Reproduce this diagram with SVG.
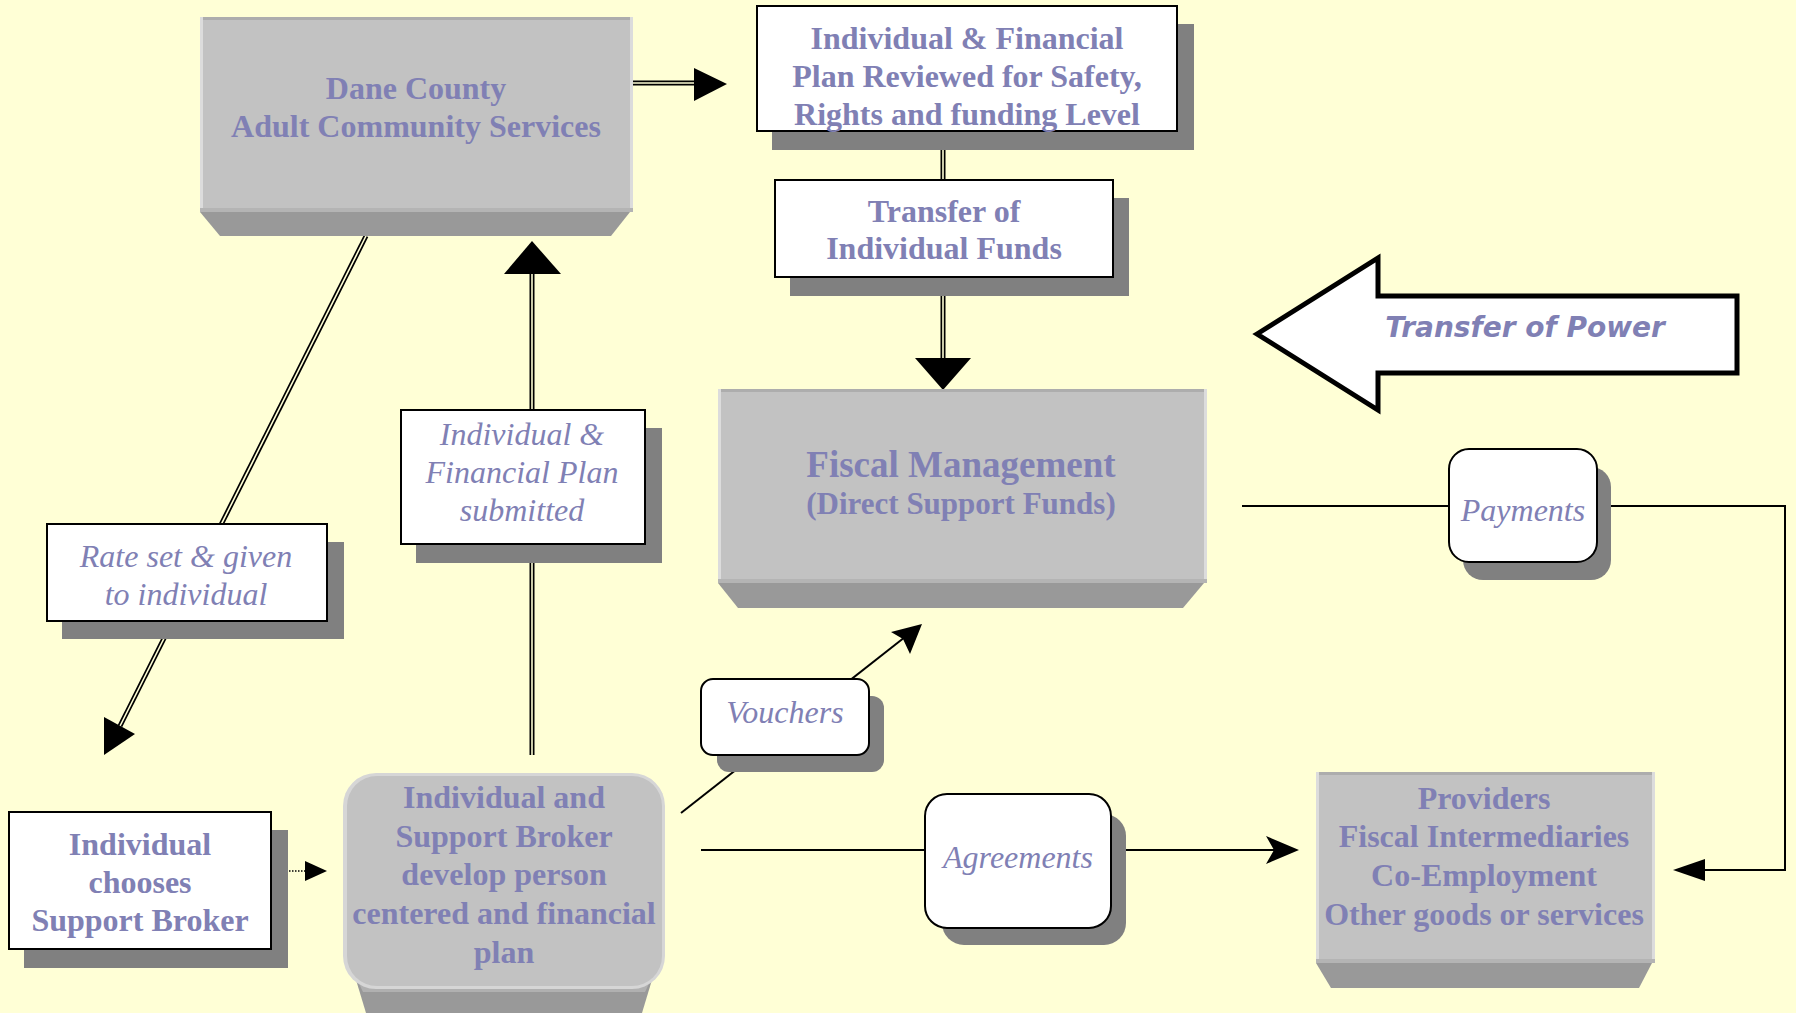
<svg xmlns="http://www.w3.org/2000/svg" width="1796" height="1013" viewBox="0 0 1796 1013">
<defs>
<style>
.shadow{fill:#808080}
.box{fill:#FFFFFF;stroke:#000000;stroke-width:2}
.face{fill:#C2C2C2}
.edgeL{fill:#DCDCDC}
.edgeT{fill:#ADADAD}
.edgeB{fill:#B4B4B4}
.bevel{fill:#999999}
.tb{font-family:"Liberation Serif","Times New Roman",serif;font-weight:bold;font-size:32px;fill:#8080B4;text-anchor:middle}
.ti{font-family:"Liberation Serif","Times New Roman",serif;font-style:italic;font-size:32px;fill:#8080B4;text-anchor:middle}
.dblo{fill:none;stroke:#000000;stroke-width:5}
.dbli{fill:none;stroke:#FFFFD6;stroke-width:1.6}
.thin{fill:none;stroke:#000000;stroke-width:2}
.head{fill:#000000}
</style>
</defs>
<rect x="0" y="0" width="1796" height="1013" fill="#FFFFD6"/>

<g id="connectors">
  <!-- Dane -> Review -->
  <line class="dblo" x1="633" y1="83" x2="696" y2="83"/>
  <line class="dbli" x1="633" y1="83" x2="696" y2="83"/>
  <polygon class="head" points="694,68 694,101 727,84"/>
  <!-- Review -> Transfer -->
  <line class="dblo" x1="943" y1="131" x2="943" y2="180"/>
  <line class="dbli" x1="943" y1="131" x2="943" y2="180"/>
  <!-- Transfer -> Fiscal -->
  <line class="dblo" x1="943" y1="277" x2="943" y2="360"/>
  <line class="dbli" x1="943" y1="277" x2="943" y2="360"/>
  <polygon class="head" points="915,358 971,358 943,390"/>
  <!-- Broker -> Dane -->
  <line class="dblo" x1="532" y1="755" x2="532" y2="272"/>
  <line class="dbli" x1="532" y1="755" x2="532" y2="272"/>
  <polygon class="head" points="504,274 561,274 532,241"/>
  <!-- Dane -> Individual -->
  <line class="dblo" x1="366" y1="236" x2="120" y2="726"/>
  <line class="dbli" x1="366" y1="236" x2="120" y2="726"/>
  <polygon class="head" points="104,717 135,734 104,755"/>
  <!-- Chooses -> Broker (dotted) -->
  <line x1="289" y1="871" x2="306" y2="871" stroke="#000000" stroke-width="1.5" stroke-dasharray="1.5,1.5"/>
  <polygon class="head" points="305,861 305,881 327,871"/>
  <!-- Vouchers line -->
  <line class="thin" x1="681" y1="813" x2="905" y2="637"/>
  <polygon class="head" points="922,624 910,654 903,639 891,632"/>
  <!-- Agreements line -->
  <line class="thin" x1="701" y1="850" x2="1280" y2="850"/>
  <polygon class="head" points="1299,850 1266,836 1274,850 1266,864"/>
  <!-- Payments line -->
  <polyline class="thin" points="1242,506 1785,506 1785,870 1700,870"/>
  <polygon class="head" points="1673,870 1705,859 1705,881"/>
</g>

<g id="dane-county">
  <rect class="face" x="200" y="17" width="433" height="195"/>
  <rect class="edgeT" x="200" y="17" width="433" height="3"/>
  <rect class="edgeL" x="200" y="17" width="3" height="195"/>
  <rect class="edgeL" x="630" y="17" width="3" height="195"/>
  <rect class="edgeB" x="200" y="208" width="433" height="4"/>
  <polygon class="bevel" points="200,212 630,212 611,236 220,236"/>
  <text class="tb" x="416" y="99">Dane County</text>
  <text class="tb" x="416" y="137">Adult Community Services</text>
</g>

<g id="plan-reviewed">
  <rect class="shadow" x="772" y="24" width="422" height="126"/>
  <rect class="box" x="757" y="6" width="420" height="125"/>
  <text class="tb" x="967" y="49">Individual &amp; Financial</text>
  <text class="tb" x="967" y="87">Plan Reviewed for Safety,</text>
  <text class="tb" x="967" y="125">Rights and funding Level</text>
</g>

<g id="transfer-funds">
  <rect class="shadow" x="790" y="198" width="339" height="98"/>
  <rect class="box" x="775" y="180" width="338" height="97"/>
  <text class="tb" x="944" y="222">Transfer of</text>
  <text class="tb" x="944" y="259">Individual Funds</text>
</g>

<g id="transfer-power">
  <polygon points="1257,334 1378,258 1378,296 1737,296 1737,373 1378,373 1378,410" fill="#FFFFFF" stroke="#000000" stroke-width="5" stroke-linejoin="miter"/>
  <text x="1525" y="337" font-family="'DejaVu Sans',Verdana,sans-serif" font-weight="bold" font-style="italic" font-size="28" fill="#8080B4" text-anchor="middle">Transfer of Power</text>
</g>

<g id="fiscal-management">
  <rect class="face" x="718" y="389" width="489" height="194"/>
  <rect class="edgeT" x="718" y="389" width="489" height="3"/>
  <rect class="edgeL" x="718" y="389" width="3" height="194"/>
  <rect class="edgeL" x="1204" y="389" width="3" height="194"/>
  <rect class="edgeB" x="718" y="579" width="489" height="4"/>
  <polygon class="bevel" points="718,583 1204,583 1183,608 738,608"/>
  <text class="tb" x="961" y="477" style="font-size:37px">Fiscal Management</text>
  <text class="tb" x="961" y="514" style="font-size:31px">(Direct Support Funds)</text>
</g>

<g id="payments">
  <rect class="shadow" x="1463" y="467" width="148" height="113" rx="20"/>
  <rect class="box" x="1449" y="449" width="148" height="113" rx="20"/>
  <text class="ti" x="1523" y="521">Payments</text>
</g>

<g id="rate-set">
  <rect class="shadow" x="62" y="542" width="282" height="97"/>
  <rect class="box" x="47" y="524" width="280" height="97"/>
  <text class="ti" x="186" y="567">Rate set &amp; given</text>
  <text class="ti" x="186" y="605">to individual</text>
</g>

<g id="plan-submitted">
  <rect class="shadow" x="416" y="428" width="246" height="135"/>
  <rect class="box" x="401" y="410" width="244" height="134"/>
  <text class="ti" x="522" y="445">Individual &amp;</text>
  <text class="ti" x="522" y="483">Financial Plan</text>
  <text class="ti" x="522" y="521">submitted</text>
</g>

<g id="vouchers">
  <rect class="shadow" x="717" y="696" width="167" height="76" rx="12"/>
  <rect class="box" x="701" y="679" width="168" height="76" rx="12"/>
  <text class="ti" x="785" y="723">Vouchers</text>
</g>

<g id="agreements">
  <rect class="shadow" x="942" y="814" width="184" height="131" rx="22"/>
  <rect class="box" x="925" y="794" width="186" height="134" rx="22"/>
  <text class="ti" x="1018" y="868">Agreements</text>
</g>

<g id="providers">
  <rect class="face" x="1316" y="772" width="339" height="191"/>
  <rect class="edgeT" x="1316" y="772" width="339" height="3"/>
  <rect class="edgeL" x="1316" y="772" width="3" height="191"/>
  <rect class="edgeL" x="1652" y="772" width="3" height="191"/>
  <rect class="edgeB" x="1316" y="959" width="339" height="4"/>
  <polygon class="bevel" points="1316,963 1652,963 1639,988 1331,988"/>
  <text class="tb" x="1484" y="809">Providers</text>
  <text class="tb" x="1484" y="847">Fiscal Intermediaries</text>
  <text class="tb" x="1484" y="886">Co-Employment</text>
  <text class="tb" x="1484" y="925">Other goods or services</text>
</g>

<g id="individual-chooses">
  <rect class="shadow" x="24" y="830" width="264" height="138"/>
  <rect class="box" x="9" y="812" width="262" height="137"/>
  <text class="tb" x="140" y="855">Individual</text>
  <text class="tb" x="140" y="893">chooses</text>
  <text class="tb" x="140" y="931">Support Broker</text>
</g>

<g id="individual-broker">
  <path class="bevel" d="M350,960 L658,960 L642,1013 L366,1013 Z"/>
  <path d="M355,975 L653,975 L645,992 L363,992 Z" fill="#B0B0B0"/>
  <rect x="343" y="773" width="322" height="216" rx="33" fill="#D6D6D6"/>
  <rect x="347" y="776" width="315" height="210" rx="30" fill="#C2C2C2"/>
  <text class="tb" x="504" y="808">Individual and</text>
  <text class="tb" x="504" y="847">Support Broker</text>
  <text class="tb" x="504" y="885">develop person</text>
  <text class="tb" x="504" y="924">centered and financial</text>
  <text class="tb" x="504" y="963">plan</text>
</g>
</svg>
